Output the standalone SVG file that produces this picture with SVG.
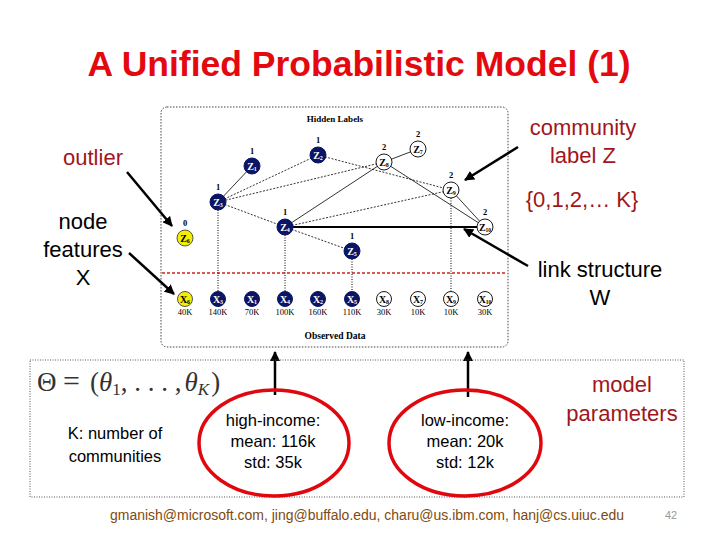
<svg xmlns="http://www.w3.org/2000/svg" width="720" height="540" viewBox="0 0 720 540">
<defs>
<marker id="ah" viewBox="0 0 10 10" refX="9" refY="5" markerWidth="4" markerHeight="4" orient="auto" markerUnits="strokeWidth">
<path d="M0,0 L10,5 L0,10 z" fill="#000"/>
</marker>
<style>
.cal{font-family:"Liberation Sans","Noto Sans",sans-serif;}
.red{fill:#a0161b;}
.blk{fill:#000;}
.ser{font-family:"Liberation Serif","DejaVu Serif",serif;}
.nav{fill:#0b1566;stroke:#0b1566;stroke-width:1;}
.wht{fill:#fff;stroke:#000;stroke-width:0.9;}
.yel{fill:#f4ee00;stroke:#444;stroke-width:0.9;}
.nl{font-family:"Liberation Serif","DejaVu Serif",serif;font-size:10px;font-weight:bold;text-anchor:middle;}
.tw{fill:#fff;}
.tb{fill:#000;}
.num{font-family:"Liberation Serif","DejaVu Serif",serif;font-size:8.5px;font-weight:bold;text-anchor:middle;fill:#000;}
.val{font-family:"Liberation Serif","DejaVu Serif",serif;font-size:8.5px;text-anchor:middle;fill:#000;}
.dash{stroke:#000;stroke-width:0.8;stroke-dasharray:2,1.5;fill:none;}
.sol{stroke:#000;stroke-width:0.8;fill:none;}
.dot{stroke:#000;stroke-width:1;stroke-dasharray:1,1.5;fill:none;}
.arr{stroke:#000;stroke-width:2.5;fill:none;marker-end:url(#ah);}
.ell{fill:none;stroke:#e0080e;stroke-width:3.5;}
.bt{font-family:"Liberation Sans","Noto Sans",sans-serif;font-size:16.5px;text-anchor:middle;fill:#000;}
.lab{font-family:"Liberation Sans","Noto Sans",sans-serif;font-size:22px;text-anchor:middle;}
</style>
</defs>
<rect width="720" height="540" fill="#fff"/>

<text id="title" x="359" y="76" font-family="Liberation Sans, Arial, sans-serif" font-weight="bold" font-size="35.5" fill="#e4090f" text-anchor="middle">A Unified Probabilistic Model (1)</text>

<!-- graph frame -->
<rect x="161" y="107" width="347" height="240" rx="6" fill="none" stroke="#444" stroke-width="1" stroke-dasharray="1.5,1.5"/>
<text x="335" y="122" class="ser" font-size="9" font-weight="bold" text-anchor="middle">Hidden Labels</text>
<text x="335" y="339" class="ser" font-size="9.5" font-weight="bold" text-anchor="middle">Observed Data</text>
<line x1="162" y1="273" x2="507" y2="273" stroke="#d42020" stroke-width="1.5" stroke-dasharray="3,2"/>

<g id="connectors">
<line class="sol" x1="252" y1="166" x2="218" y2="202"/>
<line class="dash" x1="318" y1="155" x2="218" y2="202"/>
<line class="dash" x1="384" y1="162" x2="218" y2="202"/>
<line class="dash" x1="218" y1="202" x2="285" y2="227"/>
<line class="dash" x1="318" y1="155" x2="451" y2="190"/>
<line class="sol" x1="384" y1="162" x2="418" y2="149"/>
<line class="sol" x1="384" y1="162" x2="285" y2="227"/>
<line class="sol" x1="384" y1="162" x2="485" y2="227"/>
<line class="dash" x1="285" y1="227" x2="451" y2="190"/>
<line x1="285" y1="227" x2="485" y2="227" stroke="#000" stroke-width="1.8"/>
<line class="sol" x1="451" y1="190" x2="485" y2="227"/>
<line class="dash" x1="285" y1="227" x2="352" y2="251"/>
<line class="dot" x1="218" y1="210" x2="218" y2="291"/>
<line class="dot" x1="285" y1="235" x2="285" y2="291"/>
<line class="dot" x1="352" y1="259" x2="352" y2="291"/>
<line class="dot" x1="451" y1="198" x2="451" y2="291"/>
<!-- annotation arrows -->
<line class="arr" x1="127" y1="172" x2="172" y2="226"/>
<line class="arr" x1="129" y1="253" x2="174" y2="294"/>
<line class="arr" x1="518" y1="147" x2="465" y2="180"/>
<line class="arr" x1="528" y1="266" x2="464" y2="229"/>
<line class="arr" x1="275" y1="395" x2="275" y2="352"/>
<line class="arr" x1="468" y1="397" x2="468" y2="352"/>
</g>

<!-- hidden label nodes -->
<g id="z1"><circle class="nav" cx="252" cy="166" r="8"/><text class="nl tw" x="252" y="169.5">Z<tspan font-size="6" dy="1.5">1</tspan></text><text class="num" x="252" y="154">1</text></g>
<g id="z2"><circle class="nav" cx="318" cy="155" r="8"/><text class="nl tw" x="318" y="158.5">Z<tspan font-size="6" dy="1.5">2</tspan></text><text class="num" x="318" y="143">1</text></g>
<g id="z8"><circle class="wht" cx="384" cy="162" r="8"/><text class="nl tb" x="384" y="165.5">Z<tspan font-size="6" dy="1.5">8</tspan></text><text class="num" x="384" y="150">2</text></g>
<g id="z7"><circle class="wht" cx="418" cy="149" r="8"/><text class="nl tb" x="418" y="152.5">Z<tspan font-size="6" dy="1.5">7</tspan></text><text class="num" x="418" y="137">2</text></g>
<g id="z9"><circle class="wht" cx="451" cy="190" r="8"/><text class="nl tb" x="451" y="193.5">Z<tspan font-size="6" dy="1.5">9</tspan></text><text class="num" x="451" y="178">2</text></g>
<g id="z3"><circle class="nav" cx="218" cy="202" r="8"/><text class="nl tw" x="218" y="205.5">Z<tspan font-size="6" dy="1.5">3</tspan></text><text class="num" x="218" y="190">1</text></g>
<g id="z4"><circle class="nav" cx="285" cy="227" r="8"/><text class="nl tw" x="285" y="230.5">Z<tspan font-size="6" dy="1.5">4</tspan></text><text class="num" x="285" y="215">1</text></g>
<g id="z10"><circle class="wht" cx="485" cy="227" r="8"/><text class="nl tb" x="485" y="230.5" font-size="8.5">Z<tspan font-size="5.5" dy="1.5">10</tspan></text><text class="num" x="485" y="215">2</text></g>
<g id="z6"><circle class="yel" cx="185" cy="238" r="8"/><text class="nl tb" x="185" y="241.5">Z<tspan font-size="6" dy="1.5">6</tspan></text><text class="num" x="185" y="226">0</text></g>
<g id="z5"><circle class="nav" cx="352" cy="251" r="8"/><text class="nl tw" x="352" y="254.5">Z<tspan font-size="6" dy="1.5">5</tspan></text><text class="num" x="352" y="239">1</text></g>

<!-- observed nodes -->
<g id="x6"><circle class="yel" cx="185" cy="299" r="7.5"/><text class="nl tb" x="185" y="302.5">X<tspan font-size="6" dy="1.5">6</tspan></text><text class="val" x="185" y="315">40K</text></g>
<g id="x3"><circle class="nav" cx="218" cy="299" r="7.5"/><text class="nl tw" x="218" y="302.5">X<tspan font-size="6" dy="1.5">3</tspan></text><text class="val" x="218" y="315">140K</text></g>
<g id="x1"><circle class="nav" cx="252" cy="299" r="7.5"/><text class="nl tw" x="252" y="302.5">X<tspan font-size="6" dy="1.5">1</tspan></text><text class="val" x="252" y="315">70K</text></g>
<g id="x4"><circle class="nav" cx="285" cy="299" r="7.5"/><text class="nl tw" x="285" y="302.5">X<tspan font-size="6" dy="1.5">4</tspan></text><text class="val" x="285" y="315">100K</text></g>
<g id="x2"><circle class="nav" cx="318" cy="299" r="7.5"/><text class="nl tw" x="318" y="302.5">X<tspan font-size="6" dy="1.5">2</tspan></text><text class="val" x="318" y="315">160K</text></g>
<g id="x5"><circle class="nav" cx="352" cy="299" r="7.5"/><text class="nl tw" x="352" y="302.5">X<tspan font-size="6" dy="1.5">5</tspan></text><text class="val" x="352" y="315">110K</text></g>
<g id="x8"><circle class="wht" cx="384" cy="299" r="7.5"/><text class="nl tb" x="384" y="302.5">X<tspan font-size="6" dy="1.5">8</tspan></text><text class="val" x="384" y="315">30K</text></g>
<g id="x7"><circle class="wht" cx="418" cy="299" r="7.5"/><text class="nl tb" x="418" y="302.5">X<tspan font-size="6" dy="1.5">7</tspan></text><text class="val" x="418" y="315">10K</text></g>
<g id="x9"><circle class="wht" cx="451" cy="299" r="7.5"/><text class="nl tb" x="451" y="302.5">X<tspan font-size="6" dy="1.5">9</tspan></text><text class="val" x="451" y="315">10K</text></g>
<g id="x10"><circle class="wht" cx="485" cy="299" r="7.5"/><text class="nl tb" x="485" y="302.5" font-size="8.5">X<tspan font-size="5.5" dy="1.5">10</tspan></text><text class="val" x="485" y="315">30K</text></g>

<!-- side labels -->
<g id="outlier"><text class="lab red" x="93" y="165">outlier</text></g>
<g id="node-features"><text class="lab blk" x="83" y="229">node</text><text class="lab blk" x="83" y="257">features</text><text class="lab blk" x="83" y="285">X</text></g>
<g id="community"><text class="lab red" x="583" y="135">community</text><text class="lab red" x="583" y="163">label Z</text><text class="lab red" x="582" y="207">{0,1,2,… K}</text></g>
<g id="link"><text class="lab blk" x="600" y="277">link structure</text><text class="lab blk" x="600" y="305">W</text></g>

<!-- parameters box -->
<rect x="30" y="360" width="654" height="137" fill="none" stroke="#555" stroke-width="1" stroke-dasharray="1,1.5"/>
<g id="theta" fill="#333" font-family="Liberation Serif, DejaVu Serif, serif" font-size="27">
<text x="37" y="391">Θ</text>
<text x="63" y="391" font-size="30">=</text>
<text x="90" y="391">(<tspan font-style="italic">θ</tspan><tspan font-size="17" dy="4">1</tspan><tspan dy="-4">, . . . ,</tspan><tspan dx="3" font-style="italic">θ</tspan><tspan font-size="17" font-style="italic" dy="4">K</tspan><tspan dx="2" dy="-4">)</tspan></text>
</g>
<g id="k-note"><text class="bt" x="115" y="439">K: number of</text><text class="bt" x="115" y="462">communities</text></g>
<g id="high"><ellipse class="ell" cx="274" cy="443" rx="75" ry="53"/><text class="bt" x="273" y="426">high-income:</text><text class="bt" x="273" y="447">mean: 116k</text><text class="bt" x="273" y="468">std: 35k</text></g>
<g id="low"><ellipse class="ell" cx="465" cy="443" rx="76" ry="53"/><text class="bt" x="465" y="426">low-income:</text><text class="bt" x="465" y="447">mean: 20k</text><text class="bt" x="465" y="468">std: 12k</text></g>
<g id="model-params"><text class="lab red" x="622" y="392">model</text><text class="lab red" x="622" y="421">parameters</text></g>

<text x="110" y="520" font-family="Liberation Sans, Arial, sans-serif" font-size="14" fill="#7e4a0e" textLength="514" lengthAdjust="spacingAndGlyphs">gmanish@microsoft.com, jing@buffalo.edu, charu@us.ibm.com, hanj@cs.uiuc.edu</text>
<text x="671" y="519" font-family="Liberation Sans, Arial, sans-serif" font-size="11" fill="#999" text-anchor="middle">42</text>
</svg>
